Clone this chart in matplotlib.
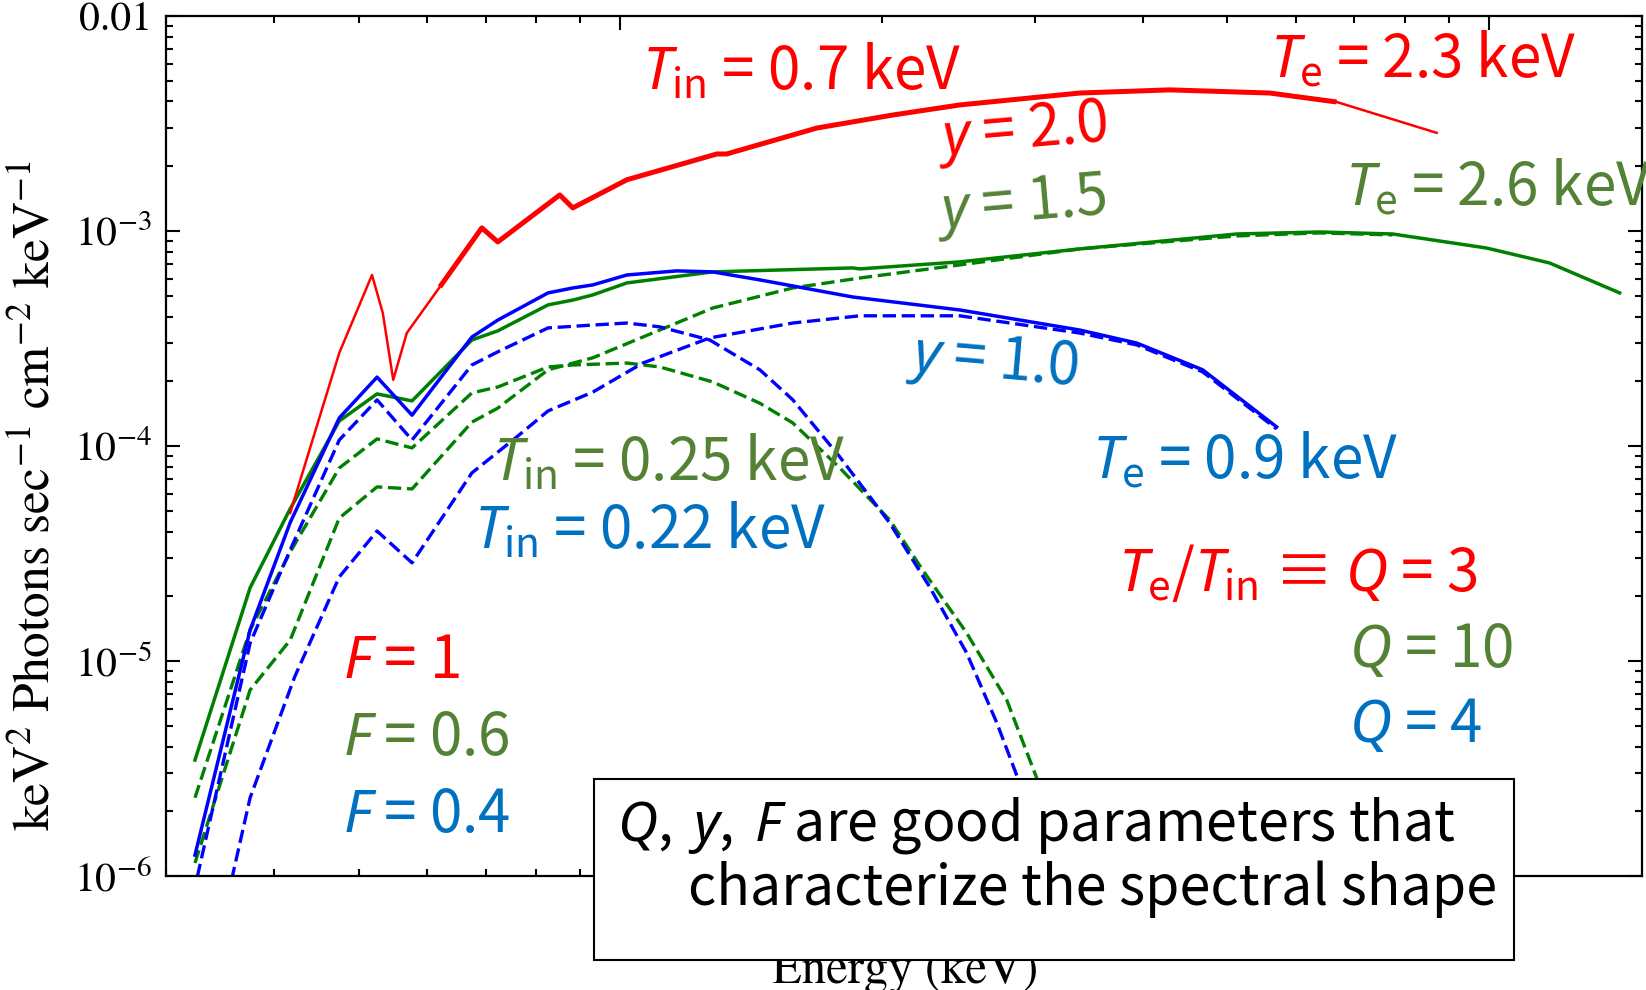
import numpy as np
import matplotlib.pyplot as plt
from matplotlib.patches import Rectangle
from matplotlib.ticker import LogLocator, NullFormatter

plt.rcParams['mathtext.fontset'] = 'stix'
plt.rcParams['mathtext.rm'] = 'Noto Sans CJK JP'
plt.rcParams['mathtext.it'] = 'Noto Sans:italic'
plt.rcParams['font.family'] = ['Noto Sans CJK JP', 'DejaVu Sans']

# spectra: energy (keV), flux (keV^2 photons/s/cm^2/keV)
red_e = np.array([0.417, 0.475, 0.518, 0.533, 0.548, 0.568, 0.620, 0.693, 0.723, 0.852,
                  0.882, 1.018, 1.292, 1.326, 1.684, 2.059, 2.460, 3.381, 4.291, 5.593,
                  6.678, 8.706])
red_f = np.array([4.88e-5, 2.71e-4, 6.24e-4, 4.16e-4, 2.03e-4, 3.35e-4, 5.49e-4, 1.033e-3,
                  8.89e-4, 1.47e-3, 1.28e-3, 1.73e-3, 2.28e-3, 2.28e-3, 3.01e-3, 3.46e-3,
                  3.855e-3, 4.38e-3, 4.53e-3, 4.38e-3, 3.98e-3, 2.86e-3])

green_e = np.array([0.324, 0.375, 0.417, 0.475, 0.525, 0.576, 0.675, 0.723, 0.826, 0.882,
                    0.930, 1.018, 1.278, 1.852, 1.887, 2.460, 3.381, 5.125, 6.385, 7.746,
                    9.936, 11.74, 14.14])
green_f = np.array([3.46e-6, 2.19e-5, 5.1e-5, 1.307e-4, 1.746e-4, 1.62e-4, 3.11e-4, 3.43e-4,
                    4.53e-4, 4.77e-4, 5.04e-4, 5.73e-4, 6.45e-4, 6.73e-4, 6.66e-4, 7.18e-4,
                    8.25e-4, 9.68e-4, 9.89e-4, 9.68e-4, 8.33e-4, 7.10e-4, 5.15e-4])

blue_e = np.array([0.324, 0.375, 0.417, 0.475, 0.525, 0.576, 0.675, 0.723, 0.826, 0.882,
                   0.930, 1.018, 1.162, 1.278, 1.448, 1.852, 2.460, 3.381, 3.932, 4.683,
                   5.697])
blue_f = np.array([1.25e-6, 1.394e-5, 4.4e-5, 1.35e-4, 2.09e-4, 1.39e-4, 3.21e-4, 3.85e-4,
                   5.15e-4, 5.43e-4, 5.61e-4, 6.24e-4, 6.52e-4, 6.45e-4, 5.92e-4, 4.93e-4,
                   4.29e-4, 3.46e-4, 3.01e-4, 2.26e-4, 1.226e-4])

# dashed: green, Tin = 0.25 keV disk-like component
green_disk_e = np.array([0.324, 0.375, 0.417, 0.475, 0.525, 0.576, 0.675, 0.723, 0.826, 0.882,
                         1.018, 1.111, 1.278, 1.448, 1.580, 1.790, 2.043, 2.229, 2.505, 2.786,
                         3.016, 3.318])
green_disk_f = np.array([2.31e-6, 1.394e-5, 3.21e-5, 7.90e-5, 1.078e-4, 9.79e-5, 1.764e-4,
                         1.88e-4, 2.33e-4, 2.38e-4, 2.43e-4, 2.33e-4, 1.985e-4, 1.58e-4,
                         1.28e-4, 7.90e-5, 4.53e-5, 2.65e-5, 1.35e-5, 6.58e-6, 2.86e-6, 1.0e-6])

# dashed: green, Comptonized component (Te = 2.6 keV)
green_comp_e = np.array([0.324, 0.375, 0.417, 0.475, 0.525, 0.576, 0.675, 0.723, 0.826, 0.930,
                         1.062, 1.278, 1.580, 1.887, 2.460, 3.381, 5.125, 6.385, 7.746])
green_comp_f = np.array([1.149e-6, 7.33e-6, 1.25e-5, 4.62e-5, 6.45e-5, 6.31e-5, 1.29e-4,
                         1.50e-4, 2.26e-4, 2.57e-4, 3.21e-4, 4.38e-4, 5.43e-4, 6.04e-4,
                         6.95e-4, 8.25e-4, 9.48e-4, 9.79e-4, 9.58e-4])

# dashed: blue, Tin = 0.22 keV disk-like component
blue_disk_e = np.array([0.326, 0.375, 0.417, 0.475, 0.525, 0.576, 0.675, 0.723, 0.826, 0.930,
                        1.018, 1.111, 1.268, 1.448, 1.580, 1.790, 2.043, 2.271, 2.505, 2.714,
                        2.868, 3.122])
blue_disk_f = np.array([0.99e-6, 1.21e-5, 3.28e-5, 1.066e-4, 1.637e-4, 1.066e-4, 2.38e-4,
                        2.74e-4, 3.54e-4, 3.65e-4, 3.73e-4, 3.58e-4, 3.11e-4, 2.26e-4,
                        1.64e-4, 8.89e-5, 4.38e-5, 2.21e-5, 1.09e-5, 5.15e-6, 2.86e-6, 1.0e-6])

# dashed: blue, Comptonized component (Te = 0.9 keV)
blue_comp_e = np.array([0.357, 0.375, 0.422, 0.475, 0.525, 0.576, 0.675, 0.760, 0.826, 0.930,
                        1.062, 1.268, 1.580, 1.887, 2.460, 3.381, 3.932, 4.683, 5.697])
blue_comp_f = np.array([0.958e-6, 2.31e-6, 8.43e-6, 2.46e-5, 4.02e-5, 2.86e-5, 7.49e-5,
                        1.10e-4, 1.455e-4, 1.78e-4, 2.43e-4, 3.18e-4, 3.73e-4, 4.03e-4,
                        4.03e-4, 3.35e-4, 2.95e-4, 2.21e-4, 1.20e-4])

ytick_vals = [1e-6, 1e-5, 1e-4, 1e-3, 1e-2]
ytick_labels = ['$10^{-6}$', '$10^{-5}$', '$10^{-4}$', '$10^{-3}$', '0.01']

RED = '#ff0000'
GREEN = '#008000'
BLUE = '#0000ff'
T_RED = '#ff0000'
T_GREEN = '#548235'
T_BLUE = '#0070c0'

fig = plt.figure(figsize=(16.46, 9.90), dpi=100)
ax = fig.add_axes([0.1008, 0.1152, 0.8967, 0.8687])
ax.set_xscale('log')
ax.set_yscale('log')

dash = (4, 1.7)
ax.plot(green_disk_e, green_disk_f, color=GREEN, lw=2.4, dashes=dash)
ax.plot(green_comp_e, green_comp_f, color=GREEN, lw=2.4, dashes=dash)
ax.plot(blue_disk_e, blue_disk_f, color=BLUE, lw=2.4, dashes=dash)
ax.plot(blue_comp_e, blue_comp_f, color=BLUE, lw=2.4, dashes=dash)
ax.plot(green_e, green_f, color=GREEN, lw=2.5)
ax.plot(blue_e, blue_f, color=BLUE, lw=2.5)
ax.plot(red_e, red_f, color=RED, lw=1.8)
thick = (red_e >= 0.62) & (red_e <= 6.7)
ax.plot(red_e[thick], red_f[thick], color=RED, lw=3.6, solid_capstyle='butt')

ax.set_xlim(0.3, 15)
ax.set_ylim(1e-6, 1e-2)
ax.xaxis.set_major_locator(LogLocator(base=10))
ax.xaxis.set_minor_locator(LogLocator(base=10, subs=np.arange(2, 10)))
ax.xaxis.set_major_formatter(NullFormatter())
ax.xaxis.set_minor_formatter(NullFormatter())
ax.yaxis.set_minor_locator(LogLocator(base=10, subs=np.arange(2, 10)))
ax.yaxis.set_minor_formatter(NullFormatter())
ax.set_yticks(ytick_vals, ytick_labels)
ax.tick_params(which='both', direction='in', top=True, right=True, width=1.5)
ax.tick_params(which='major', length=10, labelsize=30, pad=10, labelfontfamily='STIXGeneral')
ax.tick_params(which='minor', length=5)
for s in ax.spines.values():
    s.set_linewidth(1.6)

serif = 'STIXGeneral'
fig.text(0.5498, 0.0071, 'Energy (keV)', ha='center', va='baseline', fontsize=35,
         family=serif, zorder=3)
fig.text(0.0225, 0.499, r'keV$^{2}$ Photons sec$^{-1}$ cm$^{-2}$ keV$^{-1}$', rotation=90,
         ha='center', va='center', fontsize=37, family=serif, zorder=3)

fs = 42
def note(x, y, s, color, rot=0, ha='left', va='baseline'):
    fig.text(x, y, s, color=color, fontsize=fs, ha=ha, va=va, rotation=rot,
             rotation_mode='anchor', math_fontfamily='custom', zorder=4)

note(0.390, 0.909, r'$T_{\mathrm{in}}$ = 0.7 keV', T_RED)
note(0.7716, 0.922, r'$T_{\mathrm{e}}$ = 2.3 keV', T_RED)
note(0.6215, 0.8657, r'$y$ = 2.0', T_RED, rot=5, ha='center', va='center')
note(0.6209, 0.7919, r'$y$ = 1.5', T_GREEN, rot=5, ha='center', va='center')
note(0.8171, 0.7929, r'$T_{\mathrm{e}}$ = 2.6 keV', T_GREEN)
note(0.6033, 0.6333, r'$y$ = 1.0', T_BLUE, rot=-5, ha='center', va='center')
note(0.2995, 0.5141, r'$T_{\mathrm{in}}$ = 0.25 keV', T_GREEN)
note(0.6634, 0.5172, r'$T_{\mathrm{e}}$ = 0.9 keV', T_BLUE)
note(0.288, 0.4455, r'$T_{\mathrm{in}}$ = 0.22 keV', T_BLUE)
note(0.6792, 0.403, r'$T_{\mathrm{e}}$/$T_{\mathrm{in}}$ ≡ $Q$ = 3', T_RED)
note(0.8196, 0.3263, r'$Q$ = 10', T_GREEN)
note(0.8196, 0.2505, r'$Q$ = 4', T_BLUE)
note(0.2084, 0.3152, r'$F$ = 1', T_RED)
note(0.2084, 0.2374, r'$F$ = 0.6', T_GREEN)
note(0.2084, 0.1596, r'$F$ = 0.4', T_BLUE)

box = Rectangle((0.3609, 0.0303), 0.5589, 0.1828, transform=fig.transFigure,
                facecolor='white', edgecolor='black', lw=1.5, zorder=5)
fig.add_artist(box)
box_fs = 40
fig.text(0.3748, 0.1515, r'$Q$,$\,$ $y$,$\,$ $F$ are good parameters that', fontsize=box_fs,
         color='black', ha='left', va='baseline', math_fontfamily='custom', zorder=6)
fig.text(0.418, 0.0859, 'characterize the spectral shape', fontsize=box_fs,
         color='black', ha='left', va='baseline', zorder=6)

fig.savefig('out.png', dpi=100)
